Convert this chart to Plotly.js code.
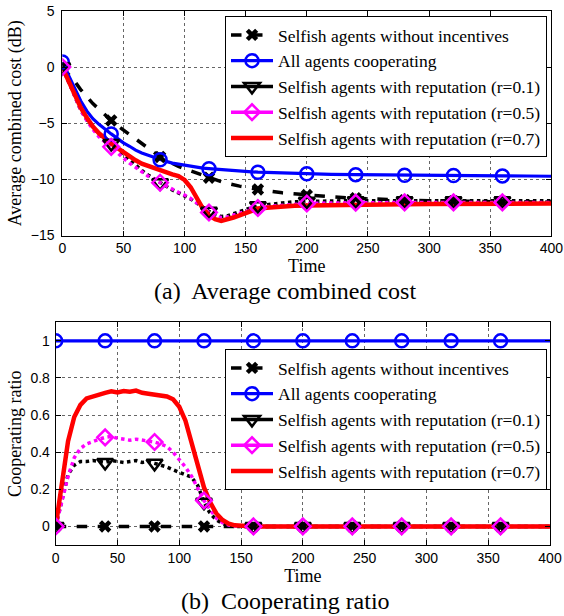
<!DOCTYPE html>
<html>
<head>
<meta charset="utf-8">
<script src="https://cdn.plot.ly/plotly-3.0.1.min.js"></script>
<style>html,body{margin:0;padding:0;background:#fff;}#chart{width:564px;height:616px;}</style>
</head>
<body>
<div id="chart"></div>
<script>
// ---------- Data ----------
const legendNames = [
  "Selfish agents without incentives",
  "All agents cooperating",
  "Selfish agents with reputation (r=0.1)",
  "Selfish agents with reputation (r=0.5)",
  "Selfish agents with reputation (r=0.7)"
];
const captionA = "(a)  Average combined cost";
const captionB = "(b)  Cooperating ratio";

// time grid for (a) and (b)
const timeGrid = [0,5,10,15,20,25,30,35,40,45,50,55,60,65,70,75,80,85,90,95,100,105,110,115,120,125,130,135,140,145,150,155,160,170,180,190,200,220,240,260,280,300,320,340,360,380,400];
const timeCoarse = [0,40,80,120,160,200,240,280,320,360,400];
const markerTimes = [0,40,80,120,160,200,240,280,320,360];

// (a) Average combined cost (dB)
const costNoIncentive = [0,-0.6,-1.25,-2.0,-2.65,-3.25,-3.75,-4.3,-4.75,-5.2,
  -5.6,-6.0,-6.45,-6.85,-7.2,-7.6,-8.0,-8.3,-8.6,-8.85,
  -9.05,-9.25,-9.45,-9.65,-9.85,-10.0,-10.2,-10.35,-10.5,-10.6,
  -10.7,-10.8,-10.9,-11.05,-11.2,-11.3,-11.4,
  -11.55,-11.68,-11.78,-11.85,-11.9,-11.95,-11.97,-12.0,-12.0,-12.02];
const costAllCoop = [0.45,-0.75,-1.9,-3.0,-3.9,-4.6,-5.1,-5.55,-5.95,-6.35,
  -6.75,-7.05,-7.4,-7.65,-7.85,-8.05,-8.25,-8.4,-8.55,-8.65,
  -8.75,-8.85,-8.92,-9.0,-9.05,-9.1,-9.15,-9.2,-9.23,-9.27,
  -9.3,-9.33,-9.36,-9.4,-9.44,-9.47,-9.5,
  -9.55,-9.58,-9.61,-9.63,-9.65,-9.66,-9.68,-9.69,-9.7,-9.72];
const costRep01 = [0,-1.3,-2.5,-3.8,-4.7,-5.4,-6.0,-6.45,-6.8,-7.3,
  -7.8,-8.3,-8.75,-9.2,-9.6,-9.95,-10.3,-10.65,-10.95,-11.2,
  -11.45,-11.75,-12.1,-12.5,-12.85,-13.15,-13.3,-13.25,-13.05,-12.85,
  -12.65,-12.5,-12.35,-12.2,-12.1,-12.0,-11.95,
  -11.92,-11.9,-11.9,-11.9,-11.9,-11.9,-11.9,-11.9,-11.9,-11.9];
const costRep05 = [0,-1.3,-2.5,-3.8,-4.75,-5.55,-6.2,-6.7,-7.1,-7.6,
  -8.1,-8.55,-8.95,-9.35,-9.7,-10.0,-10.3,-10.6,-10.9,-11.15,
  -11.4,-11.7,-12.1,-12.55,-12.95,-13.25,-13.4,-13.35,-13.2,-13.0,
  -12.85,-12.7,-12.55,-12.4,-12.3,-12.22,-12.15,
  -12.1,-12.07,-12.05,-12.05,-12.05,-12.05,-12.05,-12.05,-12.05,-12.05];
const costRep07 = [0,-1.2,-2.3,-3.6,-4.5,-5.3,-5.9,-6.4,-6.8,-7.2,
  -7.6,-7.95,-8.3,-8.6,-8.8,-9.05,-9.2,-9.35,-9.55,-9.7,
  -10.05,-10.7,-11.6,-12.6,-13.2,-13.55,-13.7,-13.6,-13.4,-13.2,
  -13.0,-12.8,-12.6,-12.5,-12.4,-12.36,-12.33,
  -12.28,-12.25,-12.23,-12.21,-12.2,-12.19,-12.18,-12.17,-12.17,-12.16];

// (b) Cooperating ratio
const ratioNoIncentive = [0,0,0,0,0,0,0,0,0,0,0];
const ratioAllCoop = [1,1,1,1,1,1,1,1,1,1,1];
const ratioRep01 = [0,0.14,0.28,0.33,0.35,0.35,0.355,0.35,0.345,0.355,
  0.35,0.345,0.35,0.355,0.345,0.35,0.34,0.33,0.32,0.305,
  0.29,0.28,0.265,0.22,0.13,0.07,0.035,0.015,0.005,0,
  0,0,0,0,0,0,0,
  0,0,0,0,0,0,0,0,0,0];
const ratioRep05 = [0,0.13,0.27,0.37,0.42,0.445,0.46,0.47,0.48,0.485,
  0.475,0.47,0.465,0.47,0.465,0.46,0.455,0.445,0.43,0.40,
  0.36,0.32,0.27,0.20,0.14,0.09,0.045,0.02,0.008,0.002,
  0,0,0,0,0,0,0,
  0,0,0,0,0,0,0,0,0,0];
const ratioRep07 = [0,0.22,0.46,0.59,0.655,0.69,0.70,0.715,0.72,0.728,
  0.722,0.73,0.726,0.732,0.72,0.715,0.71,0.705,0.70,0.685,
  0.645,0.57,0.45,0.31,0.21,0.13,0.07,0.035,0.015,0.006,
  0.002,0,0,0,0,0,0,
  0,0,0,0,0,0,0,0,0,0];

const yTickValsA = [-15,-10,-5,0,5];
const yTickTextA = ["\u221215","\u221210","\u22125","0","5"];
const yTickValsB = [0,0.2,0.4,0.6,0.8,1];
const yTickTextB = ["0","0.2","0.4","0.6","0.8","1"];
const xTickVals = [0,50,100,150,200,250,300,350,400];

// ---------- Styles ----------
const SERIF = "Liberation Serif, Times New Roman, serif";
const SANS = "Liberation Sans, Arial, sans-serif";
const styles = [
  {color:"#000000", dash:"dash", width:3.5, symbol:"x", msize:11, mlw:0, legendDash:"dash"},
  {color:"#0000ff", dash:"solid", width:3.2, symbol:"circle-open", msize:13, mlw:2.5, legendDash:"solid"},
  {color:"#000000", dash:"dot", width:3.5, symbol:"triangle-down-open", msize:14, mlw:2.5, legendDash:"solid"},
  {color:"#ff00ff", dash:"dot", width:3.5, symbol:"diamond-open", msize:12, mlw:2.5, legendDash:"solid"},
  {color:"#ff0000", dash:"solid", width:4.5, symbol:null, msize:0, mlw:0, legendDash:"solid"}
];

function lineTrace(x, y, s, xa, ya) {
  return {x:x, y:y, type:"scatter", mode:"lines", xaxis:xa, yaxis:ya, showlegend:false, hoverinfo:"skip",
    line:{color:s.color, width:s.width, dash:s.dash}};
}
function markerTrace(x, y, s, xa, ya) {
  const mx = [], my = [];
  x.forEach((t, i) => { if (markerTimes.indexOf(t) >= 0) { mx.push(t); my.push(y[i]); } });
  const mk = {symbol:s.symbol, size:s.msize, color:s.color, line:{color:s.color, width:s.mlw}};
  return {x:mx, y:my, type:"scatter", mode:"markers", xaxis:xa, yaxis:ya, showlegend:false, hoverinfo:"skip", marker:mk};
}
function legendTrace(name, s, xa, ya, lg) {
  const t = {x:[null], y:[null], type:"scatter", name:name, xaxis:xa, yaxis:ya, legend:lg, showlegend:true,
    mode: s.symbol ? "lines+markers" : "lines",
    line:{color:s.color, width:s.width, dash:s.legendDash}};
  if (s.symbol) t.marker = {symbol:s.symbol, size:s.msize, color:s.color, line:{color:s.color, width:s.mlw}};
  return t;
}

const dataA = [
  [timeGrid, costNoIncentive], [timeGrid, costAllCoop], [timeGrid, costRep01], [timeGrid, costRep05], [timeGrid, costRep07]
];
const dataB = [
  [timeCoarse, ratioNoIncentive], [timeCoarse, ratioAllCoop], [timeGrid, ratioRep01], [timeGrid, ratioRep05], [timeGrid, ratioRep07]
];

const traces = [];
dataA.forEach((d, i) => traces.push(lineTrace(d[0], d[1], styles[i], "x", "y")));
dataA.forEach((d, i) => { if (styles[i].symbol) traces.push(markerTrace(d[0], d[1], styles[i], "x", "y")); });
dataB.forEach((d, i) => traces.push(lineTrace(d[0], d[1], styles[i], "x2", "y2")));
dataB.forEach((d, i) => { if (styles[i].symbol) traces.push(markerTrace(d[0], d[1], styles[i], "x2", "y2")); });
legendNames.forEach((n, i) => traces.push(legendTrace(n, styles[i], "x", "y", "legend")));
legendNames.forEach((n, i) => traces.push(legendTrace(n, styles[i], "x2", "y2", "legend2")));

// ---------- Layout ----------
const W = 564, H = 616;
function axisBase() {
  return {showline:true, linecolor:"#000", linewidth:1, mirror:"ticks", ticks:"inside", ticklen:5, tickcolor:"#000",
    tickwidth:1, zeroline:false, showgrid:true, gridcolor:"#666", gridwidth:1, griddash:"dot",
    tickfont:{family:SANS, size:14, color:"#000"}, automargin:false, fixedrange:true};
}
const xA = Object.assign(axisBase(), {domain:[62.3/W, 551.3/W], range:[0,400], tickvals:xTickVals, anchor:"y",
  title:{text:"Time", font:{family:SERIF, size:18, color:"#000"}, standoff:2}});
const yA = Object.assign(axisBase(), {domain:[1-235.5/H, 1-11/H], range:[-15,5], tickvals:yTickValsA, ticktext:yTickTextA, anchor:"x",
  ticklabelstandoff:4,
  title:{text:"Average combined cost (dB)", font:{family:SERIF, size:18, color:"#000"}, standoff:4}});
const xB = Object.assign(axisBase(), {domain:[55.7/W, 550/W], range:[0,400], tickvals:xTickVals, anchor:"y2",
  title:{text:"Time", font:{family:SERIF, size:18, color:"#000"}, standoff:2}});
const yB = Object.assign(axisBase(), {domain:[1-545/H, 1-322.3/H], range:[-0.1,1.1], tickvals:yTickValsB, ticktext:yTickTextB, anchor:"x2",
  ticklabelstandoff:2,
  title:{text:"Cooperating ratio", font:{family:SERIF, size:18, color:"#000"}, standoff:4}});

const legendBase = {bgcolor:"#fff", bordercolor:"#000", borderwidth:1, font:{family:SERIF, size:17.5, color:"#000"},
  xanchor:"right", yanchor:"top", itemwidth:42, tracegroupgap:0};

const layout = {
  width:W, height:H, margin:{l:0, r:0, t:0, b:0}, paper_bgcolor:"#fff", plot_bgcolor:"#fff",
  font:{family:SERIF, color:"#000"},
  xaxis:xA, yaxis:yA, xaxis2:xB, yaxis2:yB,
  legend:Object.assign({}, legendBase, {x:547/W, y:1-16/H}),
  legend2:Object.assign({}, legendBase, {x:547/W, y:1-349/H}),
  annotations:[
    {text:captionA, xref:"paper", yref:"paper", x:285/W, y:1-291/H, xanchor:"center", yanchor:"middle", showarrow:false,
      font:{family:SERIF, size:24, color:"#000"}},
    {text:captionB, xref:"paper", yref:"paper", x:285/W, y:1-601/H, xanchor:"center", yanchor:"middle", showarrow:false,
      font:{family:SERIF, size:24, color:"#000"}}
  ]
};

Plotly.newPlot("chart", traces, layout, {displayModeBar:false, staticPlot:true});
</script>
</body>
</html>
